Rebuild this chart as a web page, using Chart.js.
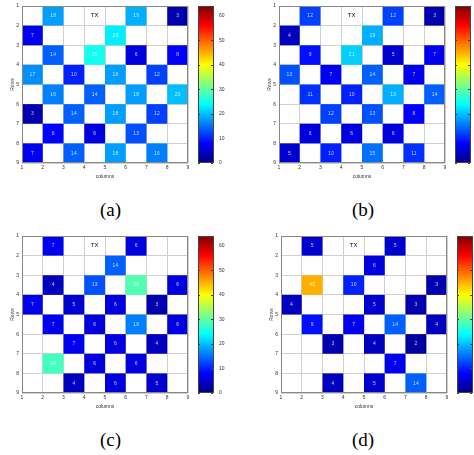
<!DOCTYPE html>
<html>
<head>
<meta charset="utf-8">
<script src="https://cdn.jsdelivr.net/npm/chart.js@4/dist/chart.umd.min.js"></script>
<style>
  body { margin: 0; width: 474px; height: 455px; overflow: hidden; background: #fff; position: relative; }
  .panel { position: absolute; width: 240px; height: 180px; }
  .cap { position: absolute; font-family: "Liberation Serif", serif; font-size: 19px; color: #000; }
</style>
</head>
<body>
<div class="panel" style="left:0;top:0"><canvas id="chartA"></canvas></div>
<div class="panel" style="left:257px;top:0"><canvas id="chartB"></canvas></div>
<div class="panel" style="left:0;top:230px"><canvas id="chartC"></canvas></div>
<div class="panel" style="left:259px;top:230px"><canvas id="chartD"></canvas></div>
<div class="cap" style="left:100px;top:199px">(a)</div>
<div class="cap" style="left:352px;top:199px">(b)</div>
<div class="cap" style="left:100px;top:429px">(c)</div>
<div class="cap" style="left:352px;top:429px">(d)</div>
<script>
// tick labels
var colTicks = [1, 2, 3, 4, 5, 6, 7, 8, 9];
var rowTicks = [1, 2, 3, 4, 5, 6, 7, 8, 9];
var colorTicks = [0, 10, 20, 30, 40, 50, 60];
var colorMax = 64;

// transmitter cell (row, column)
var txRow = 1, txCol = 4;

// received values per cell, row 1 at the top (null = empty)
var powerA = [
    [null, 18, null, null, null, 19, null, 3],
    [7, null, null, null, 23, null, null, null],
    [null, 14, null, 25, null, 6, null, 8],
    [17, null, 10, null, 18, null, 12, null],
    [null, 16, null, 14, null, 18, null, 20],
    [3, null, 14, null, 18, null, 12, null],
    [null, 8, null, 6, null, 13, null, null],
    [7, null, 14, null, 18, null, 16, null]
];
var powerB = [
    [null, 12, null, null, null, 12, null, 3],
    [4, null, null, null, 19, null, null, null],
    [null, 9, null, 21, null, 5, null, 7],
    [13, null, 7, null, 14, null, 7, null],
    [null, 11, null, 10, null, 19, null, 14],
    [null, null, 12, null, 13, null, 8, null],
    [null, 6, null, 6, null, 6, null, null],
    [5, null, 10, null, 15, null, 11, null]
];
var powerC = [
    [null, 7, null, null, null, 6, null, null],
    [null, null, null, null, 14, null, null, null],
    [null, 4, null, 13, null, 29, null, 6],
    [7, null, 5, null, 6, null, 3, null],
    [null, 7, null, 6, null, 16, null, 6],
    [null, null, 7, null, 6, null, 4, null],
    [null, 28, null, 6, null, 6, null, null],
    [null, null, 4, null, 6, null, 5, null]
];
var powerD = [
    [null, 5, null, null, null, 5, null, null],
    [null, null, null, null, 6, null, null, null],
    [null, 45, null, 10, null, null, null, 3],
    [4, null, null, null, 5, null, 3, null],
    [null, 9, null, 7, null, 14, null, 4],
    [null, null, 3, null, 4, null, 2, null],
    [null, null, null, null, null, 7, null, null],
    [null, null, 4, null, 5, null, 14, null]
];

function jet(v) {
    var t = Math.max(0, Math.min(1, v / colorMax));
    function f(x) { return Math.max(0, Math.min(1, 1.5 - Math.abs(4 * t - x))); }
    return 'rgb(' + Math.round(f(3) * 255) + ',' + Math.round(f(2) * 255) + ',' + Math.round(f(1) * 255) + ')';
}

// draws the cells through the x/y scales
var cellPlugin = {
    id: 'cells',
    beforeDatasetsDraw: function (chart) {
        var ctx = chart.ctx, xs = chart.scales.x, ys = chart.scales.y;
        chart.data.datasets[0].data.forEach(function (p) {
            var x0 = xs.getPixelForValue(p.x - 0.5), x1 = xs.getPixelForValue(p.x + 0.5);
            var y0 = ys.getPixelForValue(p.y - 0.5), y1 = ys.getPixelForValue(p.y + 0.5);
            ctx.fillStyle = jet(p.v);
            ctx.fillRect(x0, y0, x1 - x0, y1 - y0);
            ctx.fillStyle = 'rgba(255,255,255,0.75)';
            ctx.font = '5px "Liberation Sans"';
            ctx.textAlign = 'center';
            ctx.textBaseline = 'middle';
            ctx.fillText(String(p.v), (x0 + x1) / 2, (y0 + y1) / 2);
        });
        ctx.fillStyle = '#000';
        ctx.font = '6px "Liberation Sans"';
        ctx.fillText('TX', xs.getPixelForValue(txCol + 0.5), ys.getPixelForValue(txRow + 0.5));
        ctx.strokeStyle = '#888';
        ctx.lineWidth = 1;
        var a = chart.chartArea;
        ctx.strokeRect(a.left + 0.5, a.top + 0.5, a.right - a.left - 1, a.bottom - a.top - 1);
    },
    afterDraw: function (chart) {
        var ctx = chart.ctx, cs = chart.scales.c, a = chart.chartArea;
        var left = a.right + 10, w = 15;
        var yMax = cs.getPixelForValue(colorMax), y0 = cs.getPixelForValue(0);
        var grad = ctx.createLinearGradient(0, y0, 0, yMax);
        for (var i = 0; i <= 32; i++) {
            grad.addColorStop(i / 32, jet(colorMax * i / 32));
        }
        ctx.fillStyle = grad;
        ctx.fillRect(left, yMax, w, y0 - yMax);
        ctx.strokeStyle = '#444';
        ctx.strokeRect(left + 0.5, yMax + 0.5, w, y0 - yMax - 1);
        colorTicks.forEach(function (t) {
            var y = Math.round(cs.getPixelForValue(t)) + 0.5;
            ctx.beginPath();
            ctx.moveTo(left, y); ctx.lineTo(left + 2, y);
            ctx.moveTo(left + w, y); ctx.lineTo(left + w - 2, y);
            ctx.stroke();
        });
    }
};

function noVPad(s) { s.paddingTop = 0; s.paddingBottom = 0; }

function makeHeatmap(canvasId, matrix) {
    var cells = [];
    matrix.forEach(function (row, r) {
        row.forEach(function (v, c) {
            if (v !== null) cells.push({ x: c + 1.5, y: r + 1.5, v: v });
        });
    });
    var tickFont = { family: 'Liberation Sans', size: 5 };
    return new Chart(document.getElementById(canvasId), {
        type: 'scatter',
        data: { datasets: [{ data: cells, pointRadius: 0 }] },
        plugins: [cellPlugin],
        options: {
            responsive: true,
            maintainAspectRatio: false,
            animation: false,
            layout: { padding: { top: 6, left: 10, right: 0, bottom: 0 } },
            plugins: { legend: { display: false }, tooltip: { enabled: false } },
            scales: {
                x: {
                    type: 'linear', min: 1, max: 9,
                    afterBuildTicks: function (s) { s.ticks = colTicks.map(function (t) { return { value: t }; }); },
                    afterFit: function (s) { s.height = 17; s.paddingLeft = 0; s.paddingRight = 0; },
                    ticks: { font: tickFont, color: '#333', padding: 2, maxRotation: 0 },
                    grid: { color: '#d0d0d0', tickLength: 0 },
                    border: { display: false },
                    title: { display: true, text: 'columns', font: tickFont, color: '#333', padding: 0 }
                },
                y: {
                    type: 'linear', min: 1, max: 9, reverse: true,
                    afterBuildTicks: function (s) { s.ticks = rowTicks.map(function (t) { return { value: t }; }); },
                    afterFit: function (s) { s.width = 12; noVPad(s); },
                    ticks: { font: tickFont, color: '#333', padding: 3 },
                    grid: { color: '#d0d0d0', tickLength: 0 },
                    border: { display: false },
                    title: { display: true, text: 'Rows', font: tickFont, color: '#333', padding: { top: 0, bottom: 0 } }
                },
                c: {
                    type: 'linear', position: 'right', min: 0, max: colorMax,
                    afterBuildTicks: function (s) { s.ticks = colorTicks.map(function (t) { return { value: t }; }); },
                    afterFit: function (s) { s.width = 52; noVPad(s); },
                    ticks: { font: tickFont, color: '#333', padding: 31 },
                    grid: { display: false, drawTicks: false },
                    border: { display: false }
                }
            }
        }
    });
}

makeHeatmap('chartA', powerA);
makeHeatmap('chartB', powerB);
makeHeatmap('chartC', powerC);
makeHeatmap('chartD', powerD);
</script>
</body>
</html>
